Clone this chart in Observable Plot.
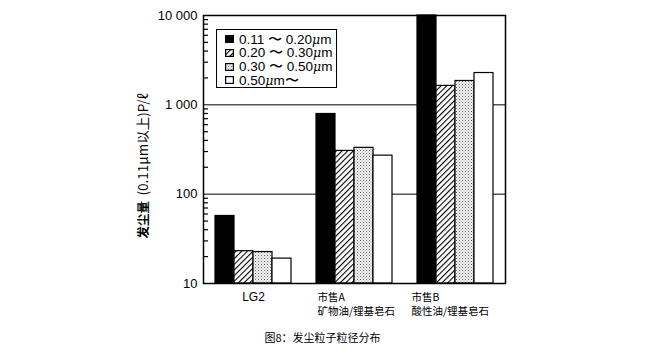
<!DOCTYPE html>
<html><head><meta charset="utf-8">
<script src="https://cdn.jsdelivr.net/npm/d3@7"></script>
<script src="https://cdn.jsdelivr.net/npm/@observablehq/plot@0.6"></script>
<style>
body{margin:0;background:#fff;}
#wrap{position:relative;width:645px;height:355px;overflow:hidden;}
#legend{position:absolute;left:216px;top:29px;width:121px;height:59px;border:1.5px solid #000;background:#fff;box-sizing:border-box;font-family:"Liberation Sans",Arial,sans-serif;font-size:13.5px;color:#000;}
#legend .row{position:absolute;left:8px;height:13px;line-height:13px;white-space:nowrap;}
#legend .mu{font-family:"DejaVu Serif",serif;font-style:italic;font-size:12.5px;line-height:13px;}
#legend svg{vertical-align:middle;margin-right:5px;position:relative;top:-1px;}
#caption{position:absolute;left:0;width:645px;top:329px;text-align:center;font-family:"Noto Sans CJK SC",sans-serif;font-size:11px;color:#000;}
</style>
</head><body>
<div id="wrap"><div id="chart"></div><div id="legend"></div><div id="caption"></div></div>
<script>
const groups = ["LG2", "市售A", "市售B"];
const groupLabels = ["LG2", "市售A\n矿物油/锂基皂石", "市售B\n酸性油/锂基皂石"];
const series = ["0.11 〜 0.20μm", "0.20 〜 0.30μm", "0.30 〜 0.50μm", "0.50μm〜"];
const s1 = [57, 790, 10000];
const s2 = [23, 305, 1630];
const s3 = [22.5, 330, 1850];
const s4 = [19, 270, 2270];
const yTicks = [10, 100, 1000, 10000];
const yTickLabels = ["10", "100", "1 000", "10 000"];
const minorTicks = [20,30,40,50,60,70,80,90,200,300,400,500,600,700,800,900,2000,3000,4000,5000,6000,7000,8000,9000];
const yLabelBold = "发尘量";
const yLabelRest = "(0.11μm以上)P/ℓ";
const caption = "图8：发尘粒子粒径分布";

const fills = ["#000", "url(#hatch)", "url(#dots)", "#fff"];
const seriesValues = [s1, s2, s3, s4];
const rows = [];
series.forEach((s, i) => groups.forEach((g, j) => rows.push({group: g, series: s, value: seriesValues[i][j]})));
const labelRows = groups.map((g, j) => ({group: g, label: groupLabels[j]}));
const bw = 19;

const chart = Plot.plot({
  width: 645, height: 322,
  marginLeft: 203, marginRight: 140, marginTop: 15, marginBottom: 39,
  style: {fontFamily: '"Liberation Sans", Arial, sans-serif', background: "#fff", color: "#000"},
  x: {domain: groups, axis: null, paddingInner: 0.25, paddingOuter: 0.1125},
  y: {type: "log", domain: [10, 10000], axis: null},
  marks: [
    Plot.ruleY([100, 1000], {stroke: "#000", strokeWidth: 1}),
    ...series.map((s, i) => Plot.barY(rows.filter(d => d.series === s), {
      x: "group", y1: 10, y2: "value", fill: fills[i], stroke: "#000", strokeWidth: 1.2,
      insetLeft: i * bw, insetRight: (3 - i) * bw
    })),
    Plot.frame({stroke: "#000", strokeWidth: 1.5}),
    Plot.axisY(minorTicks, {anchor: "left", label: null, tickSize: -5, tickFormat: () => "", strokeWidth: 1.2}),
    Plot.axisY(yTicks, {anchor: "left", label: null, tickSize: 0, tickPadding: 6, fontSize: 13,
      tickFormat: d => yTickLabels[yTicks.indexOf(d)]}),
    Plot.text(labelRows.filter(d => d.group === "LG2"), {x: "group", frameAnchor: "bottom", text: "label",
      dy: 14, fontSize: 12, textAnchor: "middle", lineAnchor: "middle", fontFamily: '"Liberation Sans", Arial, sans-serif'}),
    Plot.text(labelRows.filter(d => d.group === "市售A"), {x: "group", frameAnchor: "bottom", text: "label",
      dx: -37, dy: 7, fontSize: 10.5, lineHeight: 1.38, textAnchor: "start", lineAnchor: "top", fontFamily: '"Noto Sans CJK SC", sans-serif'}),
    Plot.text(labelRows.filter(d => d.group === "市售B"), {x: "group", frameAnchor: "bottom", text: "label",
      dx: -44, dy: 7, fontSize: 10.5, lineHeight: 1.38, textAnchor: "start", lineAnchor: "top", fontFamily: '"Noto Sans CJK SC", sans-serif'}),
    Plot.text([yLabelBold], {frameAnchor: "bottom-left", text: d => d, rotate: -90, textAnchor: "start",
      dx: -56, dy: -45, fontSize: 12.5, fontWeight: "bold", fontFamily: '"Noto Sans CJK SC", sans-serif'}),
    Plot.text([yLabelRest], {frameAnchor: "bottom-left", text: d => d, rotate: -90, textAnchor: "start",
      dx: -56, dy: -88, fontSize: 13.5, fontFamily: '"Noto Sans CJK SC", sans-serif'})
  ]
});

const defs = d3.select(chart).insert("defs", ":first-child");
const hatch = defs.append("pattern").attr("id", "hatch").attr("patternUnits", "userSpaceOnUse")
  .attr("width", 4).attr("height", 4).attr("patternTransform", "rotate(45)");
hatch.append("rect").attr("width", 4).attr("height", 4).attr("fill", "#fff");
hatch.append("line").attr("x1", 0).attr("y1", 0).attr("x2", 0).attr("y2", 4).attr("stroke", "#000").attr("stroke-width", 2.2);
const dots = defs.append("pattern").attr("id", "dots").attr("patternUnits", "userSpaceOnUse")
  .attr("width", 3).attr("height", 3);
dots.append("rect").attr("width", 3).attr("height", 3).attr("fill", "#f4f4f4");
dots.append("rect").attr("x", 0).attr("y", 0).attr("width", 1).attr("height", 1).attr("fill", "#666");
dots.append("rect").attr("x", 1.5).attr("y", 1.5).attr("width", 1).attr("height", 1).attr("fill", "#999");

document.getElementById("chart").appendChild(chart);

const legend = document.getElementById("legend");
series.forEach((s, i) => {
  const row = document.createElement("div");
  row.className = "row";
  row.style.top = (2.5 + i * 13.8) + "px";
  row.innerHTML = `<svg width="9" height="8"><rect x="0.6" y="0.6" width="7.8" height="6.8" fill="${fills[i]}" stroke="#000" stroke-width="1.2"/></svg>` +
    s.replace("μ", '<span class="mu">μ</span>');
  legend.appendChild(row);
});
document.getElementById("caption").textContent = caption;
</script>
</body></html>
